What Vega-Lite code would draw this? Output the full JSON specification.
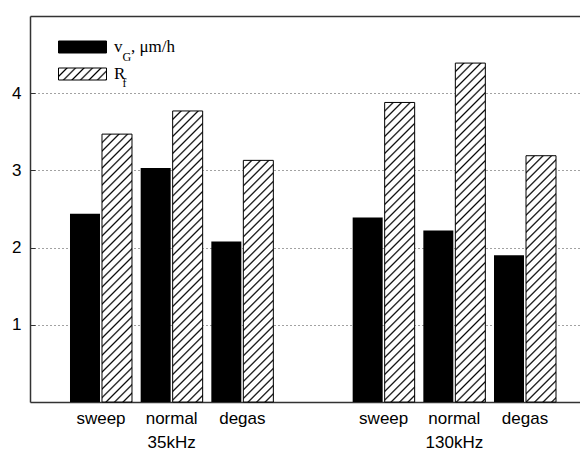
{
  "$schema": "https://vega.github.io/schema/vega-lite/v6.json",
  "width": 550,
  "height": 386,
  "autosize": {"type": "none"},
  "padding": {"left": 30, "top": 16, "right": 0, "bottom": 48},
  "background": "white",
  "params": [
    {"name": "hatch", "value": [
      {"offset":0,"color":"#fff"},
      {"offset":0.016,"color":"#fff"},{"offset":0.02,"color":"#000"},{"offset":0.024,"color":"#fff"},
      {"offset":0.036,"color":"#fff"},{"offset":0.04,"color":"#000"},{"offset":0.044,"color":"#fff"},
      {"offset":0.056,"color":"#fff"},{"offset":0.06,"color":"#000"},{"offset":0.064,"color":"#fff"},
      {"offset":0.076,"color":"#fff"},{"offset":0.08,"color":"#000"},{"offset":0.084,"color":"#fff"},
      {"offset":0.096,"color":"#fff"},{"offset":0.1,"color":"#000"},{"offset":0.104,"color":"#fff"},
      {"offset":0.116,"color":"#fff"},{"offset":0.12,"color":"#000"},{"offset":0.124,"color":"#fff"},
      {"offset":0.136,"color":"#fff"},{"offset":0.14,"color":"#000"},{"offset":0.144,"color":"#fff"},
      {"offset":0.156,"color":"#fff"},{"offset":0.16,"color":"#000"},{"offset":0.164,"color":"#fff"},
      {"offset":0.176,"color":"#fff"},{"offset":0.18,"color":"#000"},{"offset":0.184,"color":"#fff"},
      {"offset":0.196,"color":"#fff"},{"offset":0.2,"color":"#000"},{"offset":0.204,"color":"#fff"},
      {"offset":0.216,"color":"#fff"},{"offset":0.22,"color":"#000"},{"offset":0.224,"color":"#fff"},
      {"offset":0.236,"color":"#fff"},{"offset":0.24,"color":"#000"},{"offset":0.244,"color":"#fff"},
      {"offset":0.256,"color":"#fff"},{"offset":0.26,"color":"#000"},{"offset":0.264,"color":"#fff"},
      {"offset":0.276,"color":"#fff"},{"offset":0.28,"color":"#000"},{"offset":0.284,"color":"#fff"},
      {"offset":0.296,"color":"#fff"},{"offset":0.3,"color":"#000"},{"offset":0.304,"color":"#fff"},
      {"offset":0.316,"color":"#fff"},{"offset":0.32,"color":"#000"},{"offset":0.324,"color":"#fff"},
      {"offset":0.336,"color":"#fff"},{"offset":0.34,"color":"#000"},{"offset":0.344,"color":"#fff"},
      {"offset":0.356,"color":"#fff"},{"offset":0.36,"color":"#000"},{"offset":0.364,"color":"#fff"},
      {"offset":0.376,"color":"#fff"},{"offset":0.38,"color":"#000"},{"offset":0.384,"color":"#fff"},
      {"offset":0.396,"color":"#fff"},{"offset":0.4,"color":"#000"},{"offset":0.404,"color":"#fff"},
      {"offset":0.416,"color":"#fff"},{"offset":0.42,"color":"#000"},{"offset":0.424,"color":"#fff"},
      {"offset":0.436,"color":"#fff"},{"offset":0.44,"color":"#000"},{"offset":0.444,"color":"#fff"},
      {"offset":0.456,"color":"#fff"},{"offset":0.46,"color":"#000"},{"offset":0.464,"color":"#fff"},
      {"offset":0.476,"color":"#fff"},{"offset":0.48,"color":"#000"},{"offset":0.484,"color":"#fff"},
      {"offset":0.496,"color":"#fff"},{"offset":0.5,"color":"#000"},{"offset":0.504,"color":"#fff"},
      {"offset":0.516,"color":"#fff"},{"offset":0.52,"color":"#000"},{"offset":0.524,"color":"#fff"},
      {"offset":0.536,"color":"#fff"},{"offset":0.54,"color":"#000"},{"offset":0.544,"color":"#fff"},
      {"offset":0.556,"color":"#fff"},{"offset":0.56,"color":"#000"},{"offset":0.564,"color":"#fff"},
      {"offset":0.576,"color":"#fff"},{"offset":0.58,"color":"#000"},{"offset":0.584,"color":"#fff"},
      {"offset":0.596,"color":"#fff"},{"offset":0.6,"color":"#000"},{"offset":0.604,"color":"#fff"},
      {"offset":0.616,"color":"#fff"},{"offset":0.62,"color":"#000"},{"offset":0.624,"color":"#fff"},
      {"offset":0.636,"color":"#fff"},{"offset":0.64,"color":"#000"},{"offset":0.644,"color":"#fff"},
      {"offset":0.656,"color":"#fff"},{"offset":0.66,"color":"#000"},{"offset":0.664,"color":"#fff"},
      {"offset":0.676,"color":"#fff"},{"offset":0.68,"color":"#000"},{"offset":0.684,"color":"#fff"},
      {"offset":0.696,"color":"#fff"},{"offset":0.7,"color":"#000"},{"offset":0.704,"color":"#fff"},
      {"offset":0.716,"color":"#fff"},{"offset":0.72,"color":"#000"},{"offset":0.724,"color":"#fff"},
      {"offset":0.736,"color":"#fff"},{"offset":0.74,"color":"#000"},{"offset":0.744,"color":"#fff"},
      {"offset":0.756,"color":"#fff"},{"offset":0.76,"color":"#000"},{"offset":0.764,"color":"#fff"},
      {"offset":0.776,"color":"#fff"},{"offset":0.78,"color":"#000"},{"offset":0.784,"color":"#fff"},
      {"offset":0.796,"color":"#fff"},{"offset":0.8,"color":"#000"},{"offset":0.804,"color":"#fff"},
      {"offset":0.816,"color":"#fff"},{"offset":0.82,"color":"#000"},{"offset":0.824,"color":"#fff"},
      {"offset":0.836,"color":"#fff"},{"offset":0.84,"color":"#000"},{"offset":0.844,"color":"#fff"},
      {"offset":0.856,"color":"#fff"},{"offset":0.86,"color":"#000"},{"offset":0.864,"color":"#fff"},
      {"offset":0.876,"color":"#fff"},{"offset":0.88,"color":"#000"},{"offset":0.884,"color":"#fff"},
      {"offset":1,"color":"#fff"}
    ]}
  ],
  "data": {"values": [
    {"slot": "sweep@35", "series": "vG", "value": 2.44},
    {"slot": "sweep@35", "series": "Rf", "value": 3.47},
    {"slot": "normal@35", "series": "vG", "value": 3.03},
    {"slot": "normal@35", "series": "Rf", "value": 3.77},
    {"slot": "degas@35", "series": "vG", "value": 2.08},
    {"slot": "degas@35", "series": "Rf", "value": 3.13},
    {"slot": "sweep@130", "series": "vG", "value": 2.39},
    {"slot": "sweep@130", "series": "Rf", "value": 3.88},
    {"slot": "normal@130", "series": "vG", "value": 2.22},
    {"slot": "normal@130", "series": "Rf", "value": 4.39},
    {"slot": "degas@130", "series": "vG", "value": 1.90},
    {"slot": "degas@130", "series": "Rf", "value": 3.19}
  ]},
  "resolve": {"axis": {"x": "independent"}},
  "layer": [
    {
      "mark": {"type": "bar"},
      "encoding": {
        "x": {
          "field": "slot", "type": "nominal",
          "scale": {
            "domain": ["sweep@35", "normal@35", "degas@35", "gap", "sweep@130", "normal@130", "degas@130"],
            "paddingInner": 0.1227, "paddingOuter": 0.4528, "align": 0.625, "round": false
          },
          "axis": {
            "orient": "bottom", "title": null, "ticks": false, "grid": false,
            "labelAngle": 0, "labelPadding": 8, "labelLineHeight": 24,
            "labelFont": "Liberation Sans", "labelFontSize": 17, "labelColor": "black",
            "domainColor": "#333", "domainWidth": 1.5,
            "labelExpr": "datum.value == 'normal@35' ? ['normal', '35kHz'] : datum.value == 'normal@130' ? ['normal', '130kHz'] : datum.value == 'gap' ? '' : split(datum.value, '@')[0]"
          }
        },
        "xOffset": {
          "field": "series", "type": "nominal",
          "scale": {"domain": ["vG", "Rf"], "paddingInner": 0.0625, "paddingOuter": 0}
        },
        "y": {
          "field": "value", "type": "quantitative",
          "scale": {"domain": [0, 5], "nice": false},
          "axis": {
            "title": null, "values": [1, 2, 3, 4], "format": "d", "grid": true,
            "gridDash": [1, 3], "gridColor": "#444", "gridWidth": 1,
            "tickSize": -5, "tickColor": "#333", "labelPadding": 14,
            "labelFont": "Liberation Sans", "labelFontSize": 17, "labelColor": "black",
            "domainColor": "#333", "domainWidth": 1.5
          }
        },
        "fill": {
          "field": "series", "type": "nominal",
          "scale": {
            "domain": ["vG", "Rf"],
            "range": ["black", {"expr": "{gradient: 'linear', x1: 0, y1: 0, x2: 8.3333, y2: 2.0833, stops: hatch}"}]
          },
          "legend": {
            "orient": "none", "legendX": 28, "legendY": 23, "title": null, "padding": 0,
            "symbolType": "M-1,-0.25H1V0.25H-1Z", "symbolSize": 2304,
            "symbolStrokeColor": "black", "symbolStrokeWidth": 1,
            "clipHeight": 16, "rowPadding": 10, "labelOffset": 7, "labelLimit": 0,
            "labelFont": "Liberation Serif", "labelFontSize": 17, "labelColor": "black",
            "labelExpr": "datum.value == 'vG' ? 'v\u00a0\u00a0, μm/h' : '\u00a0R'"
          }
        }
      }
    },
    {
      "transform": [{"filter": "datum.series == 'Rf'"}],
      "mark": {"type": "bar", "stroke": "black", "strokeWidth": 1},
      "encoding": {
        "x": {
          "field": "slot", "type": "nominal",
          "axis": {"orient": "top", "title": null, "ticks": false, "labels": false, "grid": false, "domainColor": "#333", "domainWidth": 1.5}
        },
        "xOffset": {"field": "series", "type": "nominal"},
        "y": {"field": "value", "type": "quantitative"},
        "fill": {
          "condition": [
            {"test": "datum.slot == 'sweep@35'", "value": {"expr": "{gradient: 'linear', x1: 0, y1: 0, x2: 0.17545, y2: 1.5668, stops: hatch}"}},
            {"test": "datum.slot == 'normal@35'", "value": {"expr": "{gradient: 'linear', x1: 0, y1: 0, x2: 0.14898, y2: 1.44512, stops: hatch}"}},
            {"test": "datum.slot == 'degas@35'", "value": {"expr": "{gradient: 'linear', x1: 0, y1: 0, x2: 0.21512, y2: 1.73238, stops: hatch}"}},
            {"test": "datum.slot == 'sweep@130'", "value": {"expr": "{gradient: 'linear', x1: 0, y1: 0, x2: 0.14073, y2: 1.40494, stops: hatch}"}},
            {"test": "datum.slot == 'normal@130'", "value": {"expr": "{gradient: 'linear', x1: 0, y1: 0, x2: 0.11015, y2: 1.24431, stops: hatch}"}},
            {"test": "datum.slot == 'degas@130'", "value": {"expr": "{gradient: 'linear', x1: 0, y1: 0, x2: 0.20710, y2: 1.70030, stops: hatch}"}}
          ],
          "value": "white"
        }
      }
    },
    {
      "mark": {"type": "bar", "opacity": 0},
      "encoding": {
        "x": {"field": "slot", "type": "nominal", "axis": null},
        "xOffset": {"field": "series", "type": "nominal"},
        "y": {"field": "value", "type": "quantitative"},
        "stroke": {
          "field": "series", "type": "nominal",
          "scale": {"domain": ["vG", "Rf"], "range": ["transparent", "transparent"]},
          "legend": {
            "orient": "top-left", "offset": 33, "title": null, "padding": 0,
            "symbolSize": 1, "symbolOpacity": 0, "symbolType": "square",
            "clipHeight": 16, "rowPadding": 10, "labelOffset": 47.5, "labelLimit": 0,
            "labelFont": "Liberation Serif", "labelFontSize": 12, "labelColor": "black",
            "labelExpr": "datum.value == 'vG' ? 'G' : '\u00a0\u00a0\u00a0f'"
          }
        }
      }
    }
  ],
  "config": {
    "view": {"stroke": null}
  }
}
